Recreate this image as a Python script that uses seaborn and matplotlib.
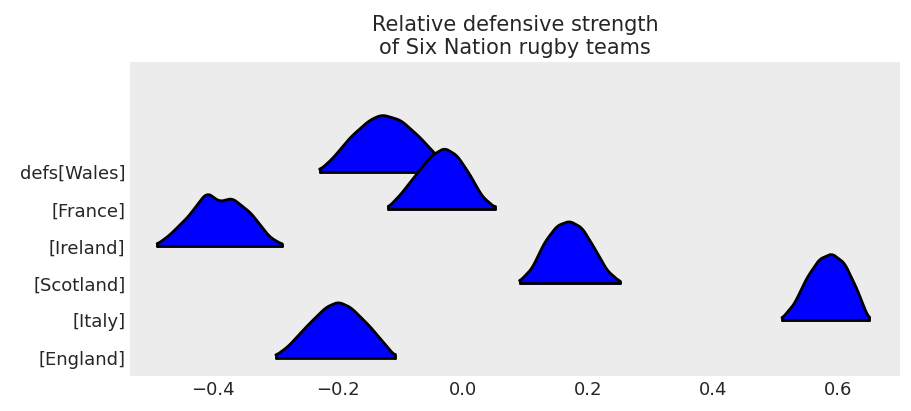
import numpy as np
import pandas as pd
import matplotlib.pyplot as plt
import seaborn as sns

# teams from bottom to top
teams = ["England", "Italy", "Scotland", "Ireland", "France", "Wales"]
tick_labels = ["[England]", "[Italy]", "[Scotland]", "[Ireland]", "[France]", "defs[Wales]"]

# density outlines (x value, ridge height in row units)
ridge_x = {
    "Wales":    [-0.23, -0.21, -0.18, -0.15, -0.13, -0.10, -0.07, -0.04, -0.01],
    "France":   [-0.12, -0.10, -0.07, -0.05, -0.03, -0.01, 0.01, 0.03, 0.05],
    "Ireland":  [-0.49, -0.47, -0.44, -0.42, -0.41, -0.39, -0.37, -0.34, -0.31, -0.29],
    "Scotland": [0.09, 0.11, 0.13, 0.15, 0.17, 0.19, 0.21, 0.23, 0.25],
    "Italy":    [0.51, 0.53, 0.55, 0.57, 0.59, 0.61, 0.63, 0.645, 0.65],
    "England":  [-0.30, -0.28, -0.25, -0.22, -0.20, -0.18, -0.15, -0.12, -0.11],
}
ridge_h = {
    "Wales":    [0.05, 0.35, 0.95, 1.40, 1.55, 1.40, 0.95, 0.40, 0.05],
    "France":   [0.05, 0.40, 1.05, 1.45, 1.65, 1.45, 0.95, 0.35, 0.05],
    "Ireland":  [0.05, 0.30, 0.80, 1.25, 1.45, 1.20, 1.30, 0.90, 0.25, 0.05],
    "Scotland": [0.05, 0.40, 1.10, 1.55, 1.68, 1.50, 0.95, 0.35, 0.05],
    "Italy":    [0.05, 0.45, 1.15, 1.65, 1.80, 1.55, 0.85, 0.20, 0.05],
    "England":  [0.05, 0.30, 0.85, 1.35, 1.50, 1.35, 0.85, 0.25, 0.05],
}

sns.set_style("darkgrid", {"axes.facecolor": "#ececec", "grid.color": "#ececec"})
fig, ax = plt.subplots(figsize=(9.11, 4.11), dpi=100)

# draw top row first so lower rows overlap upper ones
for i in range(len(teams) - 1, -1, -1):
    team = teams[i]
    xs = np.array(ridge_x[team])
    hs = np.array(ridge_h[team])
    grid = np.linspace(xs.min(), xs.max(), 200)
    dens = np.interp(grid, xs, hs)
    # light smoothing of the polyline
    k = np.ones(15) / 15
    dens = np.convolve(np.pad(dens, 7, mode="edge"), k, mode="valid")
    z = 10 + (len(teams) - i) * 3
    ax.fill_between(grid, i, i + dens, color="blue", zorder=z)
    df = pd.DataFrame({"x": grid, "y": i + dens})
    sns.lineplot(data=df, x="x", y="y", color="black", lw=2, ax=ax,
                 sort=False, estimator=None, zorder=z + 1)
    ax.plot([grid[0], grid[-1]], [i, i], color="black", lw=2,
            solid_capstyle="round", zorder=z + 1)
    ax.plot([grid[0], grid[0]], [i, i + dens[0]], color="black", lw=2, zorder=z + 1)
    ax.plot([grid[-1], grid[-1]], [i, i + dens[-1]], color="black", lw=2, zorder=z + 1)

ax.set_yticks(range(len(teams)))
ax.set_yticklabels(tick_labels)
ax.set_xticks([-0.4, -0.2, 0.0, 0.2, 0.4, 0.6])
ax.set_xlim(-0.533, 0.699)
ax.set_ylim(-0.5, 7.97)
ax.set_xlabel("")
ax.set_ylabel("")
ax.tick_params(labelsize=13, length=0)
ax.grid(False)
for s in ax.spines.values():
    s.set_visible(False)
ax.set_title("Relative defensive strength\nof Six Nation rugby teams", fontsize=15)

fig.subplots_adjust(left=0.143, right=0.988, top=0.849, bottom=0.085)
fig.savefig("out.png", dpi=100)
